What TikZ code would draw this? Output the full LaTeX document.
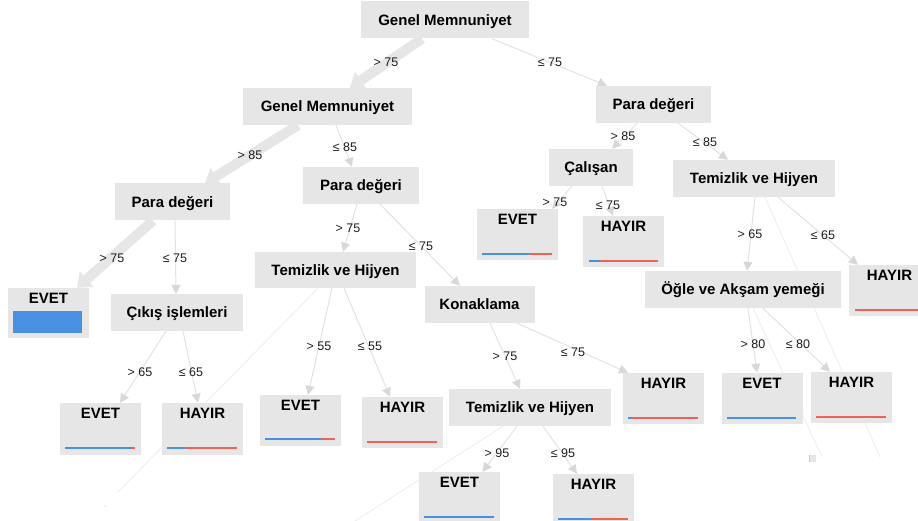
\documentclass[tikz,border=0pt]{standalone}
\usepackage{fontspec}
\setmainfont{Liberation Sans}
\usetikzlibrary{arrows.meta}
\definecolor{boxgray}{RGB}{230,230,230}
\definecolor{edgegray}{RGB}{226,226,226}
\definecolor{headgray}{RGB}{216,216,216}
\definecolor{ghost}{RGB}{236,236,236}
\definecolor{barblue}{RGB}{74,144,226}
\definecolor{barred}{RGB}{234,100,88}
\definecolor{labelink}{RGB}{30,30,30}
\pgfdeclarelayer{bg}
\pgfsetlayers{bg,main}
\begin{document}
\begin{tikzpicture}[x=1pt,y=-1pt,
  split/.style={fill=boxgray, inner sep=0pt, minimum height=37pt,
    text height=10.7pt, text depth=0pt,
    font=\fontsize{15}{18}\selectfont\bfseries, text=black},
  leafbox/.style={fill=boxgray, inner sep=0pt, minimum width=81pt, minimum height=51pt},
  leaftext/.style={inner sep=0pt, text height=10.7pt, text depth=0pt,
    font=\fontsize{15}{18}\selectfont\bfseries, text=black},
  cond/.style={inner sep=0pt, text height=9pt, text depth=0pt,
    font=\fontsize{12.5}{15}\selectfont, text=labelink},
  branch/.style={draw=edgegray, line width=1pt,
    -{Triangle[width=9pt,length=9pt,color=headgray]}},
  trunk/.style={draw=boxgray, line width=10pt,
    -{Triangle[width=20pt,length=13pt]}},
  ghostline/.style={draw=ghost, line width=0.8pt},
  bar/.style={line width=1.6pt},
  fatbar/.style={line width=2.2pt}
]
\useasboundingbox (0,0) rectangle (918,521);

% ---------- decision nodes ----------
\node[split, minimum width=168pt] (root) at (445,20)    {Genel Memnuniyet};
\node[split, minimum width=169pt] (gm2)  at (327.5,106.5) {Genel Memnuniyet};
\node[split, minimum width=115pt] (pdR)  at (653.5,104.5) {Para değeri};
\node[split, minimum width=115pt] (pdL)  at (172.5,202) {Para değeri};
\node[split, minimum width=116pt] (pdM)  at (361,185.5) {Para değeri};
\node[split, minimum width=84pt]  (cal)  at (591,167.5) {Çalışan};
\node[split, minimum width=162pt] (thR)  at (754,178.5) {Temizlik ve Hijyen};
\node[split, minimum width=132pt] (cik)  at (177,312.5) {Çıkış işlemleri};
\node[split, minimum width=161pt, minimum height=36pt] (thM) at (335.5,270) {Temizlik ve Hijyen};
\node[split, minimum width=110pt] (kon)  at (479.5,304.5) {Konaklama};
\node[split, minimum width=196pt] (ogle) at (743,289.5) {Öğle ve Akşam yemeği};
\node[split, minimum width=162pt] (thK)  at (530,407.5) {Temizlik ve Hijyen};

% ---------- leaves ----------
\node[leafbox, minimum height=50pt] (evL) at (48.5,313) {};
\node[leafbox] (evC)  at (517.5,234.5) {};
\node[leafbox] (hyC)  at (623.5,241.5) {};
\node[leafbox] (hyR)  at (889.5,290.5) {};
\node[leafbox, minimum height=52pt] (evCk) at (100.5,429) {};
\node[leafbox, minimum height=52pt] (hyCk) at (202.5,429) {};
\node[leafbox] (evM)  at (300.5,420.5) {};
\node[leafbox] (hyM)  at (402.5,422.5) {};
\node[leafbox] (hyK)  at (663.5,398.5) {};
\node[leafbox] (evO)  at (762,398.5) {};
\node[leafbox] (hyO)  at (851.5,397.5) {};
\node[leafbox] (evT)  at (459.5,497.5) {};
\node[leafbox] (hyT)  at (593.5,499.5) {};

\foreach \n/\t in {evL/EVET,evC/EVET,hyC/HAYIR,hyR/HAYIR,evCk/EVET,hyCk/HAYIR,
                   evM/EVET,hyM/HAYIR,hyK/HAYIR,evO/EVET,hyO/HAYIR,evT/EVET,hyT/HAYIR}
  \node[leaftext] (\n-t) at ([yshift=-10.8pt]\n.north) {\t};

% class bars
\fill[barblue] ([shift={(5pt,-23pt)}]evL.north west) rectangle ([shift={(-7pt,5pt)}]evL.south east);
\draw[bar,barblue] ([shift={(5pt,6pt)}]evC.south west) -- ++(47,0);
\draw[bar,barred]  ([shift={(52pt,6pt)}]evC.south west) -- ++(23,0);
\draw[bar,barblue] ([shift={(6pt,6pt)}]hyC.south west) -- ++(11,0);
\draw[bar,barred]  ([shift={(17pt,6pt)}]hyC.south west) -- ++(58,0);
\draw[bar,barred]  ([shift={(6pt,6pt)}]hyR.south west) -- ++(75,0);
\draw[fatbar,barblue] ([shift={(5pt,7pt)}]evCk.south west) -- ++(67,0);
\draw[fatbar,barred]  ([shift={(72pt,7pt)}]evCk.south west) -- ++(3,0);
\draw[fatbar,barblue] ([shift={(5pt,7pt)}]hyCk.south west) -- ++(18,0);
\draw[fatbar,barred]  ([shift={(23pt,7pt)}]hyCk.south west) -- ++(52,0);
\draw[fatbar,barblue] ([shift={(5pt,7pt)}]evM.south west) -- ++(56,0);
\draw[fatbar,barred]  ([shift={(61pt,7pt)}]evM.south west) -- ++(14,0);
\draw[bar,barred]  ([shift={(5pt,6pt)}]hyM.south west) -- ++(70,0);
\draw[bar,barblue] ([shift={(5pt,6pt)}]hyK.south west) -- ++(4,0);
\draw[bar,barred]  ([shift={(9pt,6pt)}]hyK.south west) -- ++(66,0);
\draw[bar,barblue] ([shift={(6pt,6pt)}]evO.south west) -- ++(69,0);
\draw[bar,barred]  ([shift={(5pt,6pt)}]hyO.south west) -- ++(70,0);
\draw[bar,barblue] ([shift={(5pt,6pt)}]evT.south west) -- ++(70,0);
\draw[bar,barblue] ([shift={(5pt,6pt)}]hyT.south west) -- ++(33,0);
\draw[bar,barred]  ([shift={(38pt,6pt)}]hyT.south west) -- ++(37,0);

% ---------- branch conditions ----------
\node[cond] (c1)  at (386,62)  {> 75};
\node[cond] (c2)  at (550,62)  {≤ 75};
\node[cond] (c3)  at (250,155) {> 85};
\node[cond] (c4)  at (345,147) {≤ 85};
\node[cond] (c5)  at (623,136) {> 85};
\node[cond] (c6)  at (705,142) {≤ 85};
\node[cond] (c7)  at (112,258) {> 75};
\node[cond] (c8)  at (175,258) {≤ 75};
\node[cond] (c9)  at (348,228) {> 75};
\node[cond] (c10) at (421,246) {≤ 75};
\node[cond] (c11) at (555,202) {> 75};
\node[cond] (c12) at (608,205) {≤ 75};
\node[cond] (c13) at (750,234) {> 65};
\node[cond] (c14) at (823,235) {≤ 65};
\node[cond] (c15) at (140,372) {> 65};
\node[cond] (c16) at (191,372) {≤ 65};
\node[cond] (c17) at (319,346) {> 55};
\node[cond] (c18) at (370,346) {≤ 55};
\node[cond] (c19) at (505,356) {> 75};
\node[cond] (c20) at (573,352) {≤ 75};
\node[cond] (c21) at (753,344) {> 80};
\node[cond] (c22) at (798,344) {≤ 80};
\node[cond] (c23) at (497,453) {> 95};
\node[cond] (c24) at (563,453) {≤ 95};

% loose ends of faint strokes
\coordinate (g1) at (880,457);
\coordinate (g2) at (822,457);
\coordinate (g3) at (118,492);
\coordinate (g4) at (355,521);

\begin{pgfonlayer}{bg}
  % faint strokes running behind the boxes
  \draw[ghostline] ([xshift=11pt]thR.south)   -- (g1);
  \draw[ghostline] ([xshift=10pt]ogle.south)  -- (g2);
  \draw[ghostline] ([xshift=-17.5pt]thM.south) -- (g3);
  \draw[ghostline] ([xshift=-27pt]thK.south)  -- (g4);
  \fill[ghost] (105,506) circle (1pt);
  \fill[boxgray] (809,455) rectangle (816,462);
  \draw[gray!45, line width=0.8pt] (809.4,455) -- (809.4,462);

  % heavy path
  \draw[trunk] ([xshift=-23pt]root.south) -- ([xshift=22.5pt]gm2.north);
  \draw[trunk] ([xshift=-29.5pt]gm2.south) -- ([xshift=32.5pt]pdL.north);
  \draw[trunk] ([xshift=-19.5pt]pdL.south) -- ([xshift=28.5pt]evL.north);

  % ordinary branches
  \draw[branch] ([xshift=47pt]root.south)  -- ([xshift=-46.5pt]pdR.north);
  \draw[branch] ([xshift=8.5pt]gm2.south)  -- ([xshift=-9pt]pdM.north);
  \draw[branch] ([xshift=-16.5pt]pdR.south) -- ([xshift=21pt]cal.north);
  \draw[branch] ([xshift=24.5pt]pdR.south) -- ([xshift=-26pt]thR.north);
  \draw[branch] ([xshift=2.5pt]pdL.south)  -- ([xshift=-1pt]cik.north);
  \draw[branch] ([xshift=-4pt]pdM.south)   -- ([xshift=7.5pt]thM.north);
  \draw[branch] ([xshift=19pt]pdM.south)   -- ([xshift=-19.5pt]kon.north);
  \draw[branch] ([xshift=-19pt]cal.south)  -- ([xshift=34.5pt]evC.north);
  \draw[branch] ([xshift=11pt]cal.south)   -- ([xshift=-10.5pt]hyC.north);
  \draw[branch] ([xshift=1pt]thR.south)    -- ([xshift=4pt]ogle.north);
  \draw[branch] ([xshift=24pt]thR.south)   -- ([xshift=-31.5pt]hyR.north);
  \draw[branch] ([xshift=-11pt]cik.south)  -- ([xshift=19.5pt]evCk.north);
  \draw[branch] ([xshift=6pt]cik.south)    -- ([xshift=-4.5pt]hyCk.north);
  \draw[branch] ([xshift=-3.5pt]thM.south) -- ([xshift=7.5pt]evM.north);
  \draw[branch] ([xshift=8.5pt]thM.south)  -- ([xshift=-12.5pt]hyM.north);
  \draw[branch] ([xshift=10.5pt]kon.south) -- ([xshift=-10pt]thK.north);
  \draw[branch] ([xshift=37.5pt]kon.south) -- ([xshift=-35.5pt]hyK.north);
  \draw[branch] ([xshift=5pt]ogle.south)   -- ([xshift=-5pt]evO.north);
  \draw[branch] ([xshift=20pt]ogle.south)  -- ([xshift=-21.5pt]hyO.north);
  \draw[branch] ([xshift=-13pt]thK.south)  -- ([xshift=23pt]evT.north);
  \draw[branch] ([xshift=13pt]thK.south)   -- ([xshift=-16.5pt]hyT.north);
\end{pgfonlayer}
\end{tikzpicture}
\end{document}
